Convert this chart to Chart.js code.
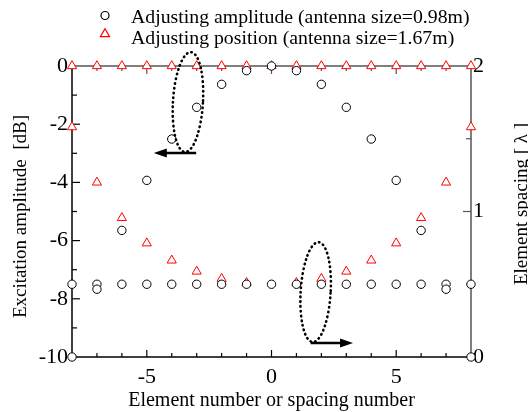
<!DOCTYPE html>
<html>
<head>
<meta charset="utf-8">
<script src="https://cdn.jsdelivr.net/npm/chart.js@4.4.0/dist/chart.umd.min.js"></script>
<style>
    body { margin: 0; background: #fff; }
    #wrap { width: 528px; height: 412px; }
</style>
</head>
<body>
<div id="wrap"><canvas id="chart" width="528" height="412"></canvas></div>
<script>

// =====================
// DATA
// =====================

const ELEMENTS = [-8, -7, -6, -5, -4, -3, -2, -1, 0, 1, 2, 3, 4, 5, 6, 7, 8];

// adjusting amplitude: excitation [dB] and spacing [lambda]
const AMP_ADJ_AMPLITUDE = [-10, -7.67, -5.65, -3.93, -2.51, -1.42, -0.63, -0.16, 0,
    -0.16, -0.63, -1.42, -2.51, -3.93, -5.65, -7.67, -10];
const AMP_ADJ_SPACING = [0.5, 0.5, 0.5, 0.5, 0.5, 0.5, 0.5, 0.5, 0.5,
    0.5, 0.5, 0.5, 0.5, 0.5, 0.5, 0.5, 0.5];

// adjusting position: excitation [dB] and spacing [lambda]
const POS_ADJ_AMPLITUDE = [0, 0, 0, 0, 0, 0, 0, 0, 0, 0, 0, 0, 0, 0, 0, 0, 0];
const SPACING_NUMBERS = [-8, -7, -6, -5, -4, -3, -2, -1, 1, 2, 3, 4, 5, 6, 7, 8];
const POS_ADJ_SPACING = [1.58, 1.2, 0.956, 0.782, 0.664, 0.588, 0.538, 0.51,
    0.51, 0.538, 0.588, 0.664, 0.782, 0.956, 1.2, 1.58];

const X_TICKS = [-5, 0, 5];
const Y_TICKS = [-10, -8, -6, -4, -2, 0];
const Y2_TICKS = [0, 1, 2];

const LEGEND_LABELS = [
    "Adjusting amplitude (antenna size=0.98m)",
    "Adjusting position (antenna size=1.67m)"
];

const FONT = "'Liberation Serif', 'Times New Roman', serif";


// =====================
// PLUGINS
// =====================

function tickLine(ctx, x1, y1, x2, y2) {
    ctx.beginPath();
    ctx.moveTo(x1, y1);
    ctx.lineTo(x2, y2);
    ctx.stroke();
}

// frame with inward ticks on all four sides
const framePlugin = {
    id: 'frame',
    beforeDatasetsDraw(chart) {
        const { ctx, chartArea: a, scales } = chart;
        const x = scales.x, y = scales.y, y2 = scales.y2;
        ctx.save();
        ctx.lineWidth = 1.5;

        ctx.strokeStyle = '#555';
        tickLine(ctx, a.left, a.top, a.right, a.top);
        tickLine(ctx, a.right, a.top, a.right, a.bottom);
        ctx.strokeStyle = '#000';
        tickLine(ctx, a.left, a.top, a.left, a.bottom);
        tickLine(ctx, a.left, a.bottom, a.right, a.bottom);

        ctx.lineWidth = 1.2;
        for (let v = -7; v <= 7; v++) {
            const px = x.getPixelForValue(v);
            const len = X_TICKS.includes(v) ? 7 : 4;
            ctx.strokeStyle = '#000';
            tickLine(ctx, px, a.bottom, px, a.bottom - len);
            ctx.strokeStyle = '#555';
            tickLine(ctx, px, a.top, px, a.top + len + 1);
        }
        ctx.strokeStyle = '#000';
        for (let v = -9; v <= -1; v++) {
            const py = y.getPixelForValue(v);
            tickLine(ctx, a.left, py, a.left + (Y_TICKS.includes(v) ? 8 : 5), py);
        }
        ctx.strokeStyle = '#555';
        [0.5, 1, 1.5].forEach(v => {
            const py = y2.getPixelForValue(v);
            tickLine(ctx, a.right, py, a.right - (Y2_TICKS.includes(v) ? 8 : 5), py);
        });
        ctx.restore();
    }
};

// dotted ellipses with arrows pointing at the axis each group uses
const ANNOTATIONS = [
    { cx: -3.35, cy: -1.24, rx: 15, ry: 50, from: -3.02, to: -4.72, ay: -2.99 },
    { cx: 1.77, cy: -7.77, rx: 15, ry: 50, from: 1.57, to: 3.27, ay: -9.52 }
];

const annotationPlugin = {
    id: 'annotations',
    afterDatasetsDraw(chart) {
        const { ctx, scales } = chart;
        ctx.save();
        ANNOTATIONS.forEach(n => {
            const cx = scales.x.getPixelForValue(n.cx);
            const cy = scales.y.getPixelForValue(n.cy);
            ctx.strokeStyle = '#000';
            ctx.lineWidth = 2.6;
            ctx.lineCap = 'round';
            ctx.setLineDash([0.5, 4.2]);
            ctx.beginPath();
            ctx.ellipse(cx, cy, n.rx, n.ry, 0.06, 0, Math.PI * 2);
            ctx.stroke();

            ctx.setLineDash([]);
            ctx.lineCap = 'butt';
            const x1 = scales.x.getPixelForValue(n.from);
            const x2 = scales.x.getPixelForValue(n.to);
            const ay = scales.y.getPixelForValue(n.ay);
            const dir = Math.sign(x2 - x1);
            ctx.lineWidth = 2.6;
            tickLine(ctx, x1, ay, x2 - dir * 8, ay);
            ctx.fillStyle = '#000';
            ctx.beginPath();
            ctx.moveTo(x2, ay);
            ctx.lineTo(x2 - dir * 13, ay - 4.5);
            ctx.lineTo(x2 - dir * 13, ay + 4.5);
            ctx.closePath();
            ctx.fill();
        });
        ctx.restore();
    }
};

// legend rows, left axis title and the clipped right axis title
const textPlugin = {
    id: 'texts',
    afterDraw(chart) {
        const { ctx } = chart;
        const sets = chart.data.datasets;
        ctx.save();
        ctx.font = '19.8px ' + FONT;
        ctx.fillStyle = '#000';
        ctx.textAlign = 'left';
        ctx.textBaseline = 'alphabetic';
        ctx.fillText(LEGEND_LABELS[0], 131, 22.5);
        ctx.fillText(LEGEND_LABELS[1], 131, 44);

        ctx.lineWidth = 1.2;
        ctx.fillStyle = '#fff';
        ctx.strokeStyle = sets[0].borderColor;
        Chart.helpers.drawPoint(ctx, { pointStyle: 'circle', radius: 4, borderWidth: 1.2 }, 105, 15.5);
        ctx.strokeStyle = sets[2].borderColor;
        Chart.helpers.drawPoint(ctx, { pointStyle: 'triangle', radius: 5.3, borderWidth: 1.2 }, 105, 34);

        ctx.fillStyle = '#000';
        ctx.font = '19px ' + FONT;
        ctx.textAlign = 'center';

        ctx.save();
        ctx.translate(26, 216.5);
        ctx.rotate(-Math.PI / 2);
        ctx.fillText('Excitation amplitude  [dB]', 0, 0);
        ctx.restore();

        ctx.translate(527, 204);
        ctx.rotate(-Math.PI / 2);
        ctx.fillText('Element spacing [ λ ]', 0, 0);
        ctx.restore();
    }
};


// =====================
// CHART
// =====================

const tickFont = { family: FONT, size: 22 };

function toPoints(xs, ys) {
    return xs.map((x, i) => ({ x: x, y: ys[i] }));
}

const circleStyle = {
    pointStyle: 'circle',
    pointRadius: 4.2,
    pointBorderWidth: 1,
    borderColor: '#000',
    backgroundColor: '#fff',
    clip: false
};

const triangleStyle = {
    pointStyle: 'triangle',
    pointRadius: 5.3,
    pointBorderWidth: 1,
    borderColor: '#ff0000',
    backgroundColor: '#fff',
    clip: false
};

new Chart(document.getElementById('chart'), {
    type: 'scatter',
    data: {
        datasets: [
            Object.assign({ label: LEGEND_LABELS[0], data: toPoints(ELEMENTS, AMP_ADJ_AMPLITUDE), yAxisID: 'y' }, circleStyle),
            Object.assign({ label: LEGEND_LABELS[0], data: toPoints(ELEMENTS, AMP_ADJ_SPACING), yAxisID: 'y2' }, circleStyle),
            Object.assign({ label: LEGEND_LABELS[1], data: toPoints(ELEMENTS, POS_ADJ_AMPLITUDE), yAxisID: 'y' }, triangleStyle),
            Object.assign({ label: LEGEND_LABELS[1], data: toPoints(SPACING_NUMBERS, POS_ADJ_SPACING), yAxisID: 'y2' }, triangleStyle)
        ]
    },
    options: {
        responsive: false,
        animation: false,
        layout: { padding: { top: 66, left: 0, right: 0, bottom: 0 } },
        plugins: {
            legend: { display: false },
            tooltip: { enabled: false }
        },
        scales: {
            x: {
                type: 'linear',
                position: 'bottom',
                min: -8,
                max: 8,
                afterBuildTicks: s => { s.ticks = X_TICKS.map(v => ({ value: v })); },
                afterFit: s => { s.height = 55; },
                grid: { display: false, drawTicks: false },
                border: { display: false },
                ticks: { font: tickFont, color: '#000', padding: 7, maxRotation: 0 },
                title: {
                    display: true,
                    text: 'Element number or spacing number',
                    font: { family: FONT, size: 20, lineHeight: 0.85 },
                    color: '#000',
                    padding: { top: 0, bottom: 2.5 }
                }
            },
            y: {
                type: 'linear',
                position: 'left',
                min: -10,
                max: 0,
                afterBuildTicks: s => { s.ticks = Y_TICKS.map(v => ({ value: v })); },
                afterFit: s => { s.width = 72; },
                grid: { display: false, drawTicks: false },
                border: { display: false },
                ticks: { font: tickFont, color: '#000', padding: 4 }
            },
            y2: {
                type: 'linear',
                position: 'right',
                min: 0,
                max: 2,
                afterBuildTicks: s => { s.ticks = Y2_TICKS.map(v => ({ value: v })); },
                afterFit: s => { s.width = 57; },
                grid: { display: false, drawTicks: false },
                border: { display: false },
                ticks: { font: tickFont, color: '#000', padding: 2 }
            }
        }
    },
    plugins: [framePlugin, annotationPlugin, textPlugin]
});

</script>
</body>
</html>
